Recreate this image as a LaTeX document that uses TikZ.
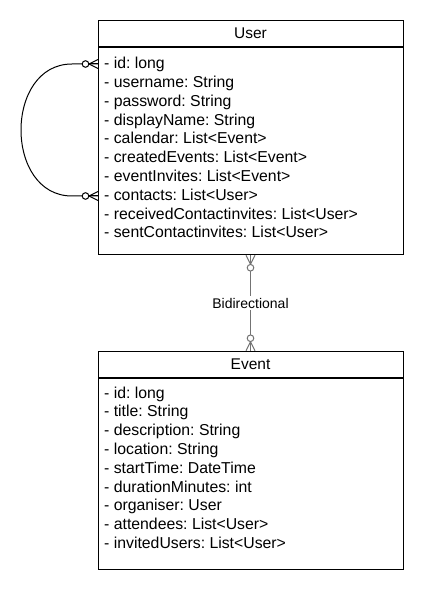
\documentclass[tikz,border=0pt]{standalone}
\usepackage{fontspec}
\setmainfont{Liberation Sans}
\usetikzlibrary{positioning}

\tikzset{
  classhead/.style={draw, line width=1pt, minimum width=305pt, minimum height=26.5pt,
    inner sep=0pt, font=\fontsize{15.5}{18}\selectfont},
  classbody/.style={draw, line width=1pt, minimum width=305pt, inner sep=0pt},
  attr/.style={anchor=base west, inner sep=0pt, font=\fontsize{15.8}{18}\selectfont\frenchspacing},
  relation/.style={draw=black!55, line width=1pt},
  rellabel/.style={fill=white, inner sep=2pt, font=\fontsize{14}{16}\selectfont}
}

% zero-or-many end: #2 = point on the box, #3 = direction away from the box
\newcommand{\zeromany}[3][black]{%
  \begin{scope}[shift={(#2)}, rotate=#3, color=#1, line width=1pt]
    \draw (0,-4.5) -- (9,0) -- (0,4.5);
    \draw (0,0) -- (9,0);
    \draw[fill=white] (12.5,0) circle (3.3pt);
  \end{scope}}

\begin{document}
\begin{tikzpicture}[x=1pt, y=-1pt]
	\useasboundingbox (0,0) rectangle (424,593);

	% User class
	\node[classhead] (uhead) at (250.5,33.5) {User};
	\node[classbody, minimum height=207pt, below=0pt of uhead] (ubody) {};
	\foreach \name [count=\i] in {- id: long, - username: String, - password: String,
		- displayName: String, - calendar: List<Event>, - createdEvents: List<Event>,
		- eventInvites: List<Event>, - contacts: List<User>,
		- receivedContactinvites: List<User>, - sentContactinvites: List<User>}
		\node[attr] (u\i) at (104, {68.8+18.8*(\i-1)}) {\name};

	% Event class
	\node[classhead] (ehead) at (250.5,364.5) {Event};
	\node[classbody, minimum height=190.5pt, below=0pt of ehead] (ebody) {};
	\foreach \name [count=\i] in {- id: long, - title: String, - description: String,
		- location: String, - startTime: DateTime, - durationMinutes: int,
		- organiser: User, - attendees: List<User>, - invitedUsers: List<User>}
		\node[attr] (e\i) at (104, {398.1+18.8*(\i-1)}) {\name};

	% User - User (contacts)
	\coordinate (loopa) at (98,64);
	\coordinate (loopb) at (98,196);
	\draw[line width=1pt] (loopa) -- ([xshift=-26pt]loopa)
		.. controls ([xshift=-94pt]loopa) and ([xshift=-94pt]loopb) .. ([xshift=-26pt]loopb) -- (loopb);
	\zeromany{loopa}{180}
	\zeromany{loopb}{180}

	% User - Event
	\draw[relation] (ubody.south) -- node[rellabel] {Bidirectional} (ehead.north);
	\zeromany[black!55]{ubody.south}{-90}
	\zeromany[black!55]{ehead.north}{90}
\end{tikzpicture}
\end{document}
